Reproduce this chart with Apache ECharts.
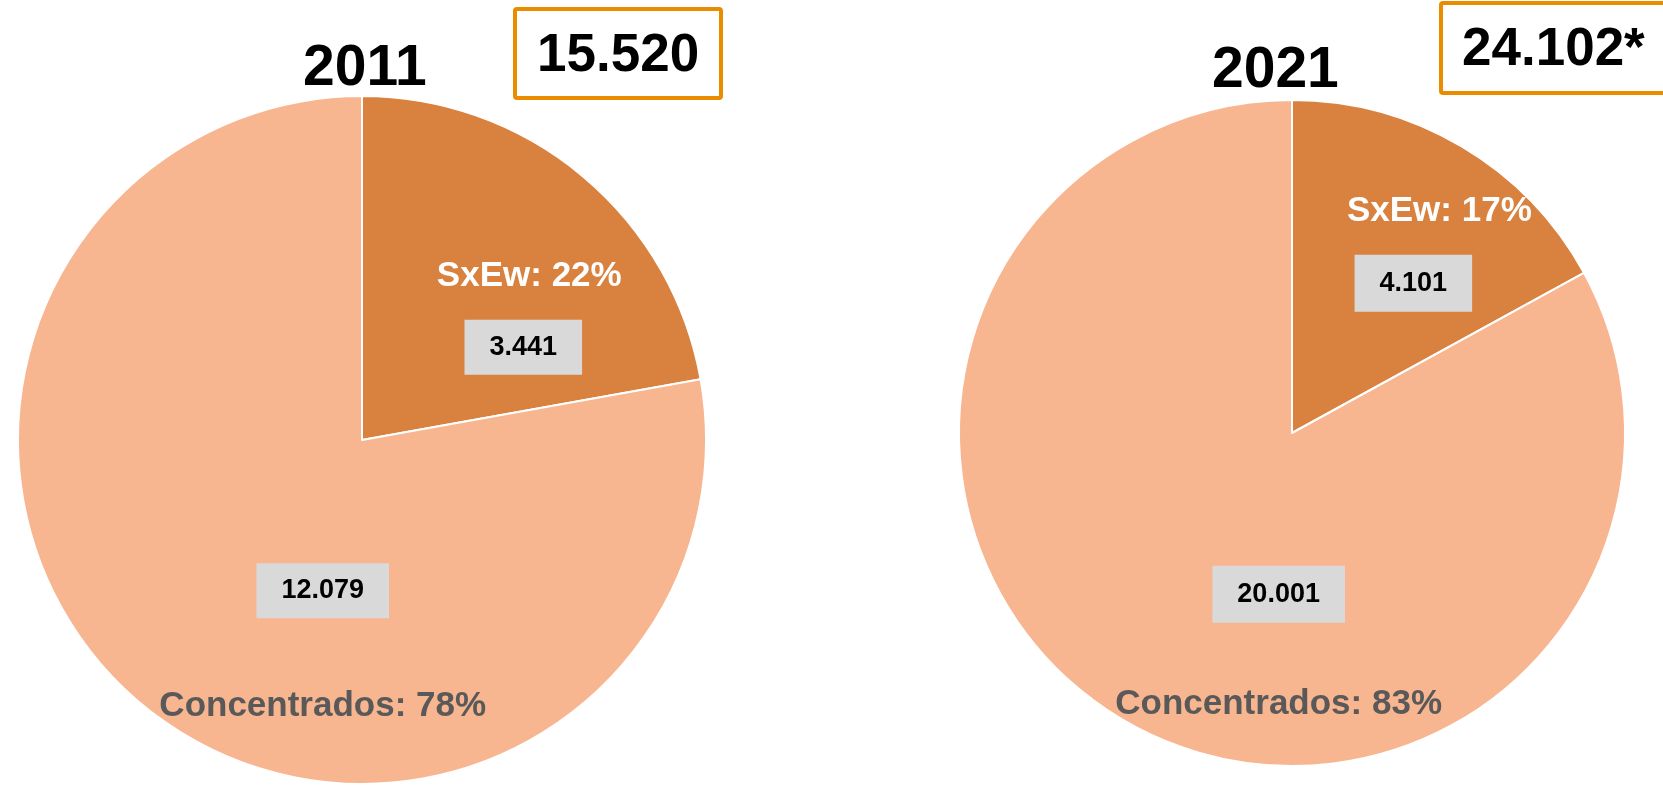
<!DOCTYPE html>
<html>
<head>
<meta charset="utf-8">
<title>SxEw vs Concentrados</title>
<script src="https://cdn.jsdelivr.net/npm/echarts@6/dist/echarts.min.js"></script>
<style>
    html, body { margin: 0; padding: 0; background: #fff; }
    #main { width: 1663px; height: 786px; }
</style>
</head>
<body>
<div id="main"></div>
<script type="text/javascript">
    // datos
    var years = ['2011', '2021'];
    var categories = ['SxEw', 'Concentrados'];
    var sxewValues = [3441, 4101];
    var concValues = [12079, 20001];
    var totalMarks = ['', '*'];

    var FONT = 'Liberation Sans, Arial, sans-serif';
    var colDark = '#D9823F';
    var colLight = '#F7B590';

    var fmt = function (v) {
        return String(v).replace(/\B(?=(\d{3})+(?!\d))/g, '.');
    };

    var myChart = echarts.init(document.getElementById('main'));

    // layout for each pie (positions / sizes only)
    var pies = [
        { center: [362, 440], radius: 344, sxOff: [49, -2], coOff: [73, 105], sxGap: 87, coGap: 177, boxPad: 14, sxShift: 12 },
        { center: [1292, 433], radius: 333, sxOff: [35, -47], coOff: [73, 97], sxGap: 86, coGap: 163, boxPad: 15, sxShift: 52 }
    ];

    var series = [];
    var titles = [];
    years.forEach(function (year, i) {
        var p = pies[i];
        var total = sxewValues[i] + concValues[i];
        var boxStyle = {
            backgroundColor: '#D9D9D9',
            color: '#000',
            fontFamily: FONT,
            fontWeight: 'bold',
            fontSize: 27,
            height: 27,
            lineHeight: 27 + 2 * p.boxPad,
            padding: [p.boxPad, 25, p.boxPad, 25]
        };
        series.push({
            name: year,
            type: 'pie',
            center: p.center,
            radius: p.radius,
            startAngle: 90,
            clockwise: true,
            animation: false,
            silent: true,
            itemStyle: { borderColor: '#fff', borderWidth: 2 },
            labelLine: { show: false },
            data: [
                {
                    name: categories[0],
                    value: sxewValues[i],
                    itemStyle: { color: colDark },
                    label: {
                        show: true,
                        position: 'inside',
                        offset: p.sxOff,
                        formatter: function (params) {
                            return '{n|' + params.name + ': ' + Math.round(params.percent) + '%}\n{b|' + fmt(params.value) + '}';
                        },
                        rich: {
                            n: {
                                color: '#fff', fontFamily: FONT, fontWeight: 'bold', fontSize: 35,
                                lineHeight: p.sxGap, padding: [0, 0, 0, p.sxShift]
                            },
                            b: boxStyle
                        }
                    }
                },
                {
                    name: categories[1],
                    value: concValues[i],
                    itemStyle: { color: colLight },
                    label: {
                        show: true,
                        position: 'inside',
                        offset: p.coOff,
                        formatter: function (params) {
                            return '{b|' + fmt(params.value) + '}\n{n|' + params.name + ': ' + Math.round(params.percent) + '%}';
                        },
                        rich: {
                            n: {
                                color: '#595959', fontFamily: FONT, fontWeight: 'bold', fontSize: 35,
                                lineHeight: p.coGap
                            },
                            b: boxStyle
                        }
                    }
                }
            ]
        });

        titles.push({
            text: year,
            left: i === 0 ? 303 : 1212,
            top: i === 0 ? 41 : 43,
            padding: 0,
            textStyle: { fontFamily: FONT, fontWeight: 'bold', fontSize: 57, color: '#000' }
        });
        titles.push({
            text: fmt(total) + totalMarks[i],
            left: i === 0 ? 515 : 1441,
            top: i === 0 ? 9 : 3,
            padding: i === 0 ? [21, 22, 15, 22] : [21, 60, 16, 21],
            borderColor: '#E98C00',
            borderWidth: 4,
            borderRadius: 2,
            textStyle: { fontFamily: FONT, fontWeight: 'bold', fontSize: 53, color: '#000' }
        });
    });

    var option = {
        backgroundColor: '#fff',
        title: titles,
        series: series
    };
    myChart.setOption(option);
</script>
</body>
</html>
